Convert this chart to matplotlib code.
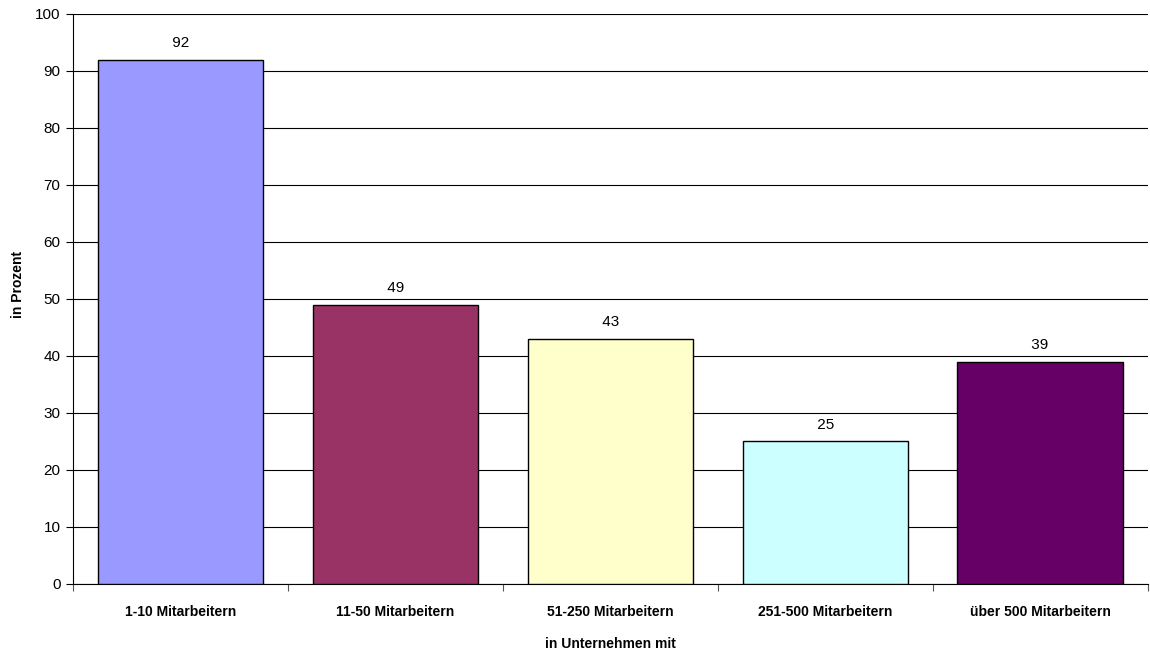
import matplotlib.pyplot as plt
import numpy as np

plt.rcParams['font.family'] = ['Liberation Sans', 'DejaVu Sans']

categories = ['1-10 Mitarbeitern', '11-50 Mitarbeitern', '51-250 Mitarbeitern',
              '251-500 Mitarbeitern', 'über 500 Mitarbeitern']
values = [92, 49, 43, 25, 39]
colors = ['#9999FF', '#993366', '#FFFFCC', '#CCFFFF', '#660066']

fig = plt.figure(figsize=(11.5, 6.56), dpi=100)
ax = fig.add_axes([0.0635, 0.1098, 0.9345, 0.869])

x = np.arange(len(categories))
ax.bar(x, values, width=0.77, color=colors, edgecolor='black', linewidth=1, zorder=3)

# value labels sit on a white patch that cuts the gridline
for xi, v in zip(x, values):
    ax.text(xi, v + 1.7, f' {v} ', ha='center', va='bottom', fontsize=11, zorder=4,
            bbox=dict(facecolor='white', edgecolor='none', pad=2))

ax.set_xlim(-0.5, len(categories) - 0.5)
ax.set_ylim(0, 100)
ax.set_yticks(range(0, 101, 10))
ax.yaxis.grid(True, color='black', linewidth=0.8, zorder=0)
ax.set_axisbelow(True)

ax.set_xticks(x)
ax.set_xticklabels(categories, fontsize=10, fontweight='bold')
ax.set_xticks(np.arange(-0.5, len(categories)), minor=True)
ax.tick_params(axis='x', which='major', length=0, pad=15)
ax.tick_params(axis='x', which='minor', length=5, width=0.8, color='#555555')
ax.tick_params(axis='y', length=5, width=0.8, labelsize=11, pad=4)

for side in ['top', 'right']:
    ax.spines[side].set_visible(False)
ax.spines['left'].set_linewidth(0.8)
ax.spines['bottom'].set_linewidth(0.8)

ax.set_ylabel('in Prozent', fontsize=10, fontweight='bold')
ax.yaxis.set_label_coords(-0.045, 0.5246)
ax.set_xlabel('in Unternehmen mit', fontsize=10, fontweight='bold', labelpad=13)

fig.savefig('out.png', dpi=100)
